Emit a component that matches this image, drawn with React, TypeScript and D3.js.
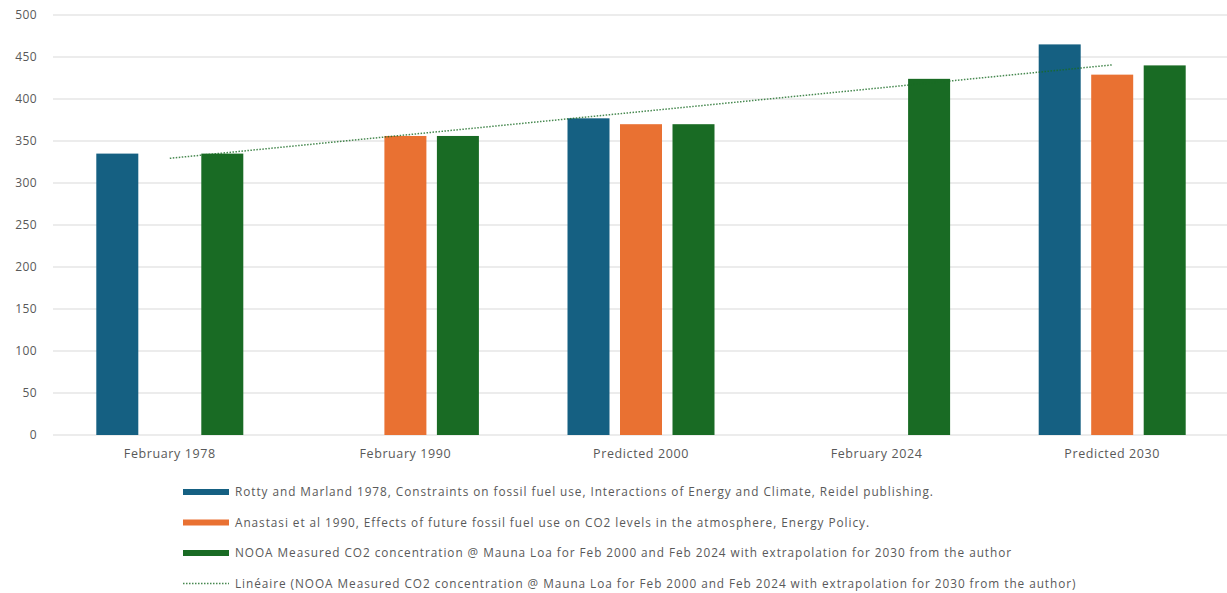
import React from "react";
import * as d3 from "d3";

const categories = ["February 1978", "February 1990", "Predicted 2000", "February 2024", "Predicted 2030"];
const rottyValues: (number | null)[] = [335, null, 377, null, 465];
const anastasiValues: (number | null)[] = [null, 356, 370, null, 429];
const noaaValues: (number | null)[] = [335, 356, 370, 424, 440];
const yTicks = [0, 50, 100, 150, 200, 250, 300, 350, 400, 450, 500];

const seriesNames = [
  "Rotty and Marland 1978, Constraints on fossil fuel use, Interactions of Energy and Climate, Reidel publishing.",
  "Anastasi et al 1990, Effects of future fossil fuel use on CO2 levels in the atmosphere, Energy Policy.",
  "NOOA Measured CO2 concentration @ Mauna Loa for Feb 2000 and Feb 2024 with extrapolation for 2030 from the author",
];
const trendName =
  "Linéaire (NOOA Measured CO2 concentration @ Mauna Loa for Feb 2000 and Feb 2024 with extrapolation for 2030 from the author)";
const colors = ["#156082", "#E97132", "#196B24"];

const W = 1227;
const H = 593;
const FONT = "'Open Sans', Lato, sans-serif";

export default function App() {
  const series = [rottyValues, anastasiValues, noaaValues];
  const x = d3.scaleBand<string>().domain(categories).range([52, 1230]).paddingInner(0).paddingOuter(0);
  const y = d3.scaleLinear().domain([0, 500]).range([435, 15]);
  const barW = 42;
  const step = 52.5;

  // linear trend of NOAA series
  const pts = noaaValues.map((v, i) => [i + 1, v as number]);
  const mx = d3.mean(pts, (p) => p[0]) as number;
  const my = d3.mean(pts, (p) => p[1]) as number;
  const slope =
    d3.sum(pts, (p) => (p[0] - mx) * (p[1] - my)) / d3.sum(pts, (p) => (p[0] - mx) * (p[0] - mx));
  const icpt = my - slope * mx;
  const trendPts: [number, number][] = [1, categories.length].map((i) => [
    (x(categories[i - 1]) as number) + x.bandwidth() / 2,
    y(icpt + slope * i),
  ]);
  const line = d3.line();

  return (
    <div style={{ position: "absolute", left: 0, top: 0 }}>
      <svg width={W} height={H} style={{ display: "block", background: "#fff" }}>
        {yTicks.map((t) => (
          <g key={t}>
            <line x1={53} x2={W} y1={y(t)} y2={y(t)} stroke="#d9d9d9" strokeWidth={1} />
            <text x={37} y={y(t)} dy="0.35em" textAnchor="end" fontFamily={FONT} fontSize={12} fill="#595959" letterSpacing={0.4}>
              {t}
            </text>
          </g>
        ))}
        {categories.map((c, ci) => {
          const cx = (x(c) as number) + x.bandwidth() / 2;
          return (
            <g key={c}>
              {series.map((s, si) => {
                const v = s[ci];
                if (v == null) return null;
                const bx = cx + (si - 1) * step - barW / 2;
                return <rect key={si} x={bx} y={y(v)} width={barW} height={y(0) - y(v)} fill={colors[si]} />;
              })}
              <text x={cx} y={458} textAnchor="middle" fontFamily={FONT} fontSize={12.5} fill="#595959" letterSpacing={0.6}>
                {c}
              </text>
            </g>
          );
        })}
        <path d={line(trendPts) || ""} fill="none" stroke={colors[2]} strokeWidth={1.5} strokeDasharray="1.5 1.5" opacity={0.8} />
        {seriesNames.map((n, i) => (
          <g key={n} transform={`translate(183, ${492 + i * 30.5})`}>
            <rect x={0} y={-3} width={46} height={6} fill={colors[i]} />
            <text x={52} y={0} dy="0.35em" fontFamily={FONT} fontSize={11.8} fill="#595959" letterSpacing={0.95}>
              {n}
            </text>
          </g>
        ))}
        <g transform={`translate(183, ${492 + 3 * 30.5})`}>
          <line x1={0} x2={46} y1={0} y2={0} stroke={colors[2]} strokeWidth={1.5} strokeDasharray="1.5 1.5" opacity={0.8} />
          <text x={52} y={0} dy="0.35em" fontFamily={FONT} fontSize={11.8} fill="#595959" letterSpacing={0.95}>
            {trendName}
          </text>
        </g>
      </svg>
    </div>
  );
}
